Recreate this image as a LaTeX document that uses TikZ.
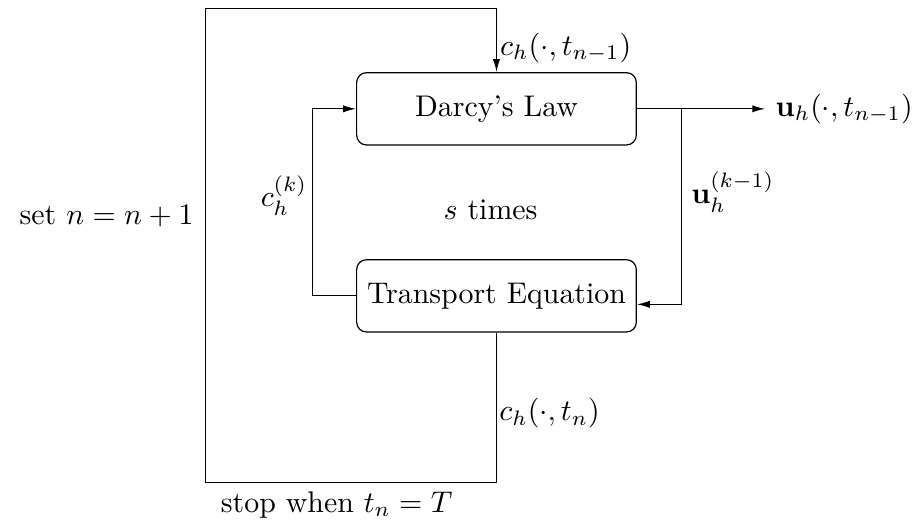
\documentclass[tikz,border=0pt]{standalone}
\usepackage{amsmath}
\usepackage{amssymb}
\usetikzlibrary{
  arrows.meta, % Latex 箭头
  calc,        % 坐标计算
  positioning  % 节点相对定位
}

\begin{document}
\begin{tikzpicture}[>={Latex[length=4.3pt,width=2.4pt]}, x=1cm, y=1cm,
  solver/.style={draw, rounded corners=3.3pt, minimum width=3.29cm, minimum height=0.85cm}]
  \useasboundingbox (0,0) rectangle (10.81,6.20);

  % =============== 两个求解模块 ===============
  \node[solver] (darcy) at (5.84, 4.92) {Darcy's Law};
  \node[solver] (transport) at (5.84, 2.72) {Transport Equation};

  % 外层时间循环的拐点
  \coordinate (outbl) at (2.42, 0.52);
  \coordinate (outtop) at (5.84, 6.10);
  % 内层迭代的拐点
  \coordinate (innl) at (3.68, 3.80);
  \coordinate (innr) at (8.02, 3.80);

  % =============== 文本标注 ===============
  \node[right] (cprev) at (5.76, 5.64) {$c_h(\cdot,t_{n-1})$};
  \node[right] (uout) at (9.00, 4.92) {$\mathbf{u}_h(\cdot,t_{n-1})$};
  \node (uk) at (8.62, 3.94) {$\mathbf{u}_h^{(k-1)}$};
  \node (ck) at (3.34, 3.90) {$c_h^{(k)}$};
  \node (stimes) at (5.77, 3.73) {$s$ times};
  \node[left] (setn) at (2.40, 3.66) {set $n=n+1$};
  \node[right] (cn) at (5.75, 1.34) {$c_h(\cdot,t_n)$};
  \node (stop) at (3.96, 0.26) {stop when $t_n=T$};

  % =============== 连线 ===============
  % 外层循环：输运方程 -> Darcy
  \draw[->] (transport.south) |- (outbl) |- (outtop) -- (darcy.north);
  % 内层循环
  \draw[->] (transport.west) -| (innl) |- (darcy.west);
  \draw[->] (darcy.east) -| (innr) |- ($(transport.east)+(0,-0.1)$);
  % 速度输出
  \draw[->] (darcy.east) -- (uout.west);

\end{tikzpicture}
\end{document}
